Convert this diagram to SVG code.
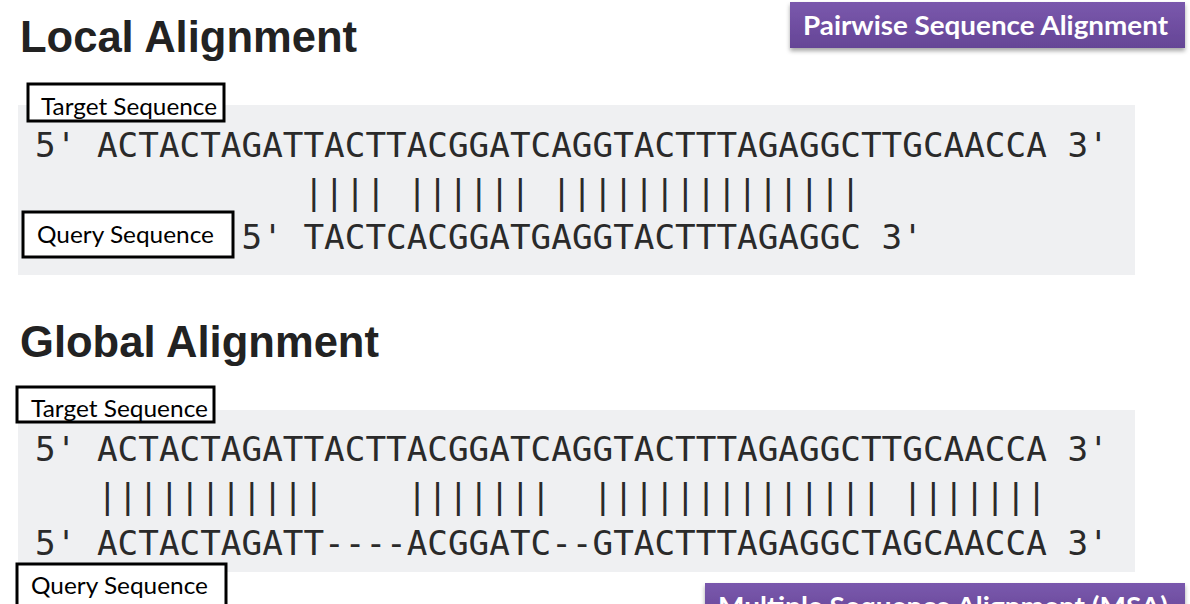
<svg xmlns="http://www.w3.org/2000/svg" width="1190" height="604" viewBox="0 0 1190 604">
  <defs>
    <linearGradient id="purple" x1="0" y1="0" x2="0" y2="1">
      <stop offset="0" stop-color="#7a58ad"/>
      <stop offset="1" stop-color="#654596"/>
    </linearGradient>
    <filter id="shadow" x="-5%" y="-20%" width="110%" height="160%">
      <feDropShadow dx="0" dy="3" stdDeviation="2" flood-color="#000" flood-opacity="0.35"/>
    </filter>
  </defs>
  <style>
    .title { font-family: "Liberation Sans", Arial, sans-serif; font-weight: bold; font-size: 45px; fill: #222; }
    .panel { fill: #eff0f2; }
    .seq { font-family: "DejaVu Sans Mono", "Liberation Mono", monospace; font-size: 34.3px; fill: #2a2a2a; }
    .bars { font-family: "DejaVu Sans Mono", "Liberation Mono", monospace; font-size: 34.3px; fill: #2a2a2a; }
    .lblbox { fill: #fff; stroke: #000; stroke-width: 3; }
    .lbl { font-family: Lato, "Open Sans", sans-serif; font-size: 23.5px; fill: #000; }
    .badge { fill: url(#purple); filter: url(#shadow); }
    .badgetxt { font-family: Lato, "Open Sans", sans-serif; font-weight: bold; font-size: 27px; fill: #fff; }
  </style>
  <rect width="1190" height="604" fill="#fff"/>

  <!-- Local alignment section -->
  <g id="local-title">
    <text class="title" x="20" y="52" textLength="337" lengthAdjust="spacingAndGlyphs">Local Alignment</text>
  </g>
  <g id="local-panel">
    <rect class="panel" x="18" y="105" width="1117" height="170"/>
    <text class="seq" x="35" y="157" xml:space="preserve">5' ACTACTAGATTACTTACGGATCAGGTACTTTAGAGGCTTGCAACCA 3'</text>
    <text class="bars" x="35" y="204" xml:space="preserve">             |||| |||||| |||||||||||||||</text>
    <text class="seq" x="241.5" y="249" xml:space="preserve">5' TACTCACGGATGAGGTACTTTAGAGGC 3'</text>
  </g>
  <g id="local-target-label">
    <rect class="lblbox" x="28" y="84" width="196" height="37"/>
    <text class="lbl" x="41" y="115" textLength="176" lengthAdjust="spacingAndGlyphs">Target Sequence</text>
  </g>
  <g id="local-query-label">
    <rect class="lblbox" x="23" y="212" width="210" height="45"/>
    <text class="lbl" x="37" y="243" textLength="177" lengthAdjust="spacingAndGlyphs">Query Sequence</text>
  </g>

  <!-- Global alignment section -->
  <g id="global-title">
    <text class="title" x="20" y="357" textLength="359" lengthAdjust="spacingAndGlyphs">Global Alignment</text>
  </g>
  <g id="global-panel">
    <rect class="panel" x="18" y="410" width="1117" height="162"/>
    <text class="seq" x="35" y="461" xml:space="preserve">5' ACTACTAGATTACTTACGGATCAGGTACTTTAGAGGCTTGCAACCA 3'</text>
    <text class="bars" x="35" y="508" xml:space="preserve">   |||||||||||    |||||||  |||||||||||||| |||||||</text>
    <text class="seq" x="35" y="555" xml:space="preserve">5' ACTACTAGATT----ACGGATC--GTACTTTAGAGGCTAGCAACCA 3'</text>
  </g>
  <g id="global-target-label">
    <rect class="lblbox" x="17" y="387" width="197" height="35"/>
    <text class="lbl" x="31" y="417" textLength="177" lengthAdjust="spacingAndGlyphs">Target Sequence</text>
  </g>
  <g id="global-query-label">
    <rect class="lblbox" x="17" y="564" width="209" height="50"/>
    <text class="lbl" x="31" y="594" textLength="177" lengthAdjust="spacingAndGlyphs">Query Sequence</text>
  </g>

  <!-- Badges -->
  <g id="pairwise-badge">
    <rect class="badge" x="790" y="2" width="395" height="46"/>
    <text class="badgetxt" x="803" y="35" textLength="365" lengthAdjust="spacingAndGlyphs">Pairwise Sequence Alignment</text>
  </g>
  <g id="msa-badge">
    <rect class="badge" x="705" y="583" width="480" height="40"/>
    <text class="badgetxt" x="718" y="616" textLength="450" lengthAdjust="spacingAndGlyphs">Multiple Sequence Alignment (MSA)</text>
  </g>
</svg>
